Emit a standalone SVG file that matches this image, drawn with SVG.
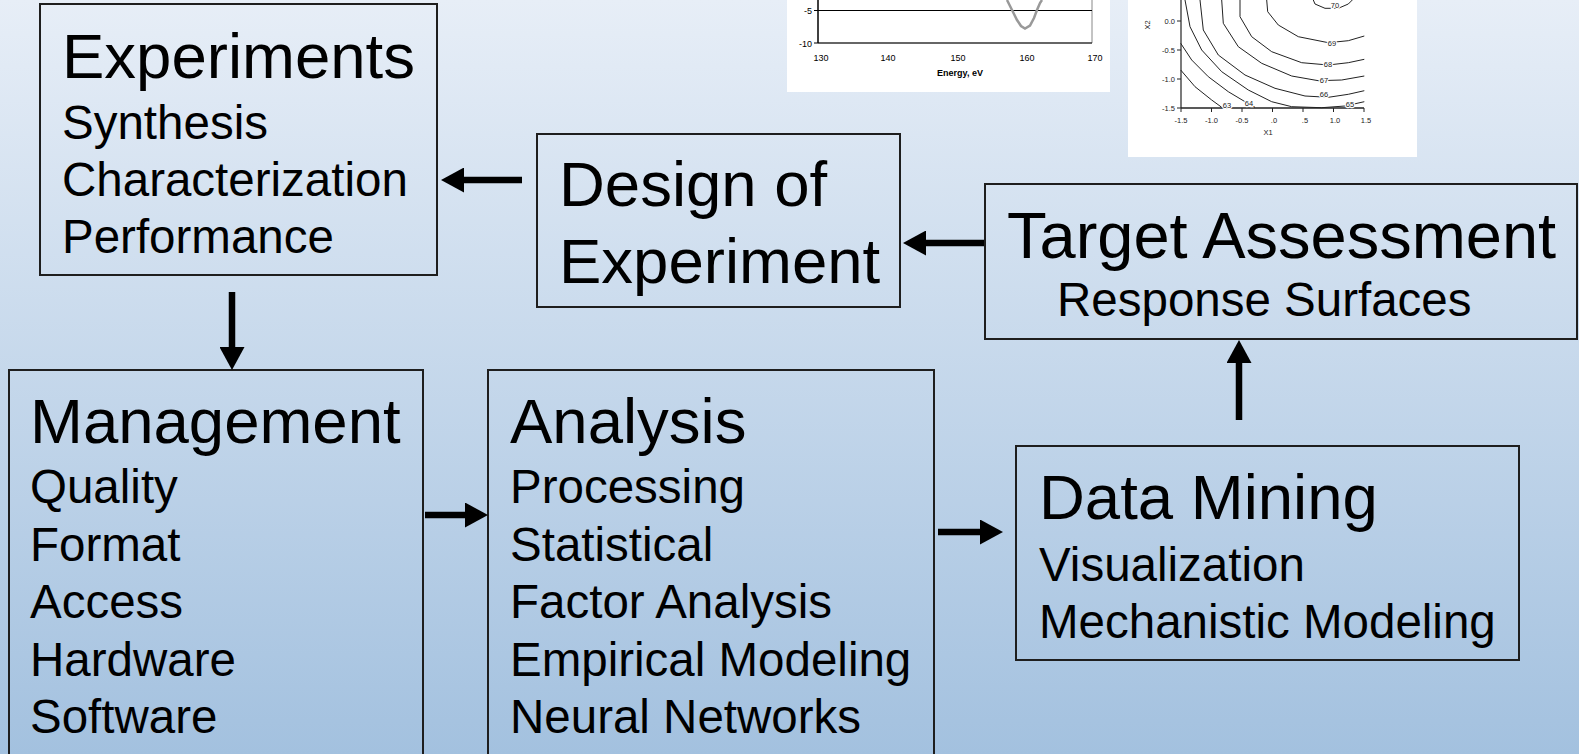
<svg xmlns="http://www.w3.org/2000/svg" width="1579" height="754" viewBox="0 0 1579 754">
<defs>
<linearGradient id="bg" x1="0" y1="0" x2="0" y2="1">
<stop offset="0" stop-color="#e7eef7"/>
<stop offset="1" stop-color="#a3c1df"/>
</linearGradient>
<marker id="ah" markerUnits="userSpaceOnUse" markerWidth="23" markerHeight="25" refX="0" refY="12.5" orient="auto" viewBox="0 0 23 25">
<path d="M0,0 L23,12.5 L0,25 z" fill="#000"/>
</marker>
<style>
.box{fill:none;stroke:#1e1e1e;stroke-width:2}
.t{font-family:"Liberation Sans",Arial,sans-serif;fill:#000}
.h{font-size:63.5px}
.s{font-size:47.5px}
.arr{stroke:#000;stroke-width:6.5;fill:none;marker-end:url(#ah)}
.ax{font-family:"Liberation Sans",Arial,sans-serif;font-size:9px;fill:#000}
.cx{font-family:"Liberation Sans",Arial,sans-serif;font-size:7.5px;fill:#222}
.cl{font-family:"Liberation Sans",Arial,sans-serif;font-size:7.5px;fill:#222;stroke:#fff;stroke-width:2.5;paint-order:stroke}
.ct{fill:none;stroke:#222;stroke-width:1}
</style>
</defs>
<rect x="0" y="0" width="1579" height="754" fill="url(#bg)"/>

<g id="spectrum-plot">
<rect x="787" y="0" width="323" height="92" fill="#fff"/>
<line x1="1092" y1="0" x2="1092" y2="43" stroke="#888" stroke-width="1"/>
<line x1="818" y1="10.5" x2="1092" y2="10.5" stroke="#000" stroke-width="1"/>
<line x1="818" y1="43" x2="1092" y2="43" stroke="#333" stroke-width="1.5"/>
<line x1="818" y1="0" x2="818" y2="43" stroke="#000" stroke-width="1.5"/>
<line x1="814" y1="10.5" x2="818" y2="10.5" stroke="#000"/>
<line x1="814" y1="43" x2="818" y2="43" stroke="#000"/>
<path d="M1007,0 L1010,6 L1013,12 L1017,20 L1021,26 L1025,28.5 L1030,25.5 L1034,18 L1037,10 L1040,3 L1042,0" fill="none" stroke="#999" stroke-width="2.5"/>
<text class="ax" x="812" y="14" text-anchor="end">-5</text>
<text class="ax" x="812" y="46.5" text-anchor="end">-10</text>
<text class="ax" x="821" y="61" text-anchor="middle">130</text>
<text class="ax" x="888" y="61" text-anchor="middle">140</text>
<text class="ax" x="958" y="61" text-anchor="middle">150</text>
<text class="ax" x="1027" y="61" text-anchor="middle">160</text>
<text class="ax" x="1095" y="61" text-anchor="middle">170</text>
<text class="ax" x="960" y="76" text-anchor="middle" font-weight="bold">Energy, eV</text>
</g>

<g id="contour-plot">
<rect x="1128" y="0" width="289" height="157" fill="#fff"/>
<path class="ct" d="M1180.7,70 L1195,86.7 L1211.7,100 L1221.7,107.3"/>
<path class="ct" d="M1180.7,43.3 L1191.7,60 L1208.3,76.7 L1228.3,91.7 L1245,101.7 L1255,107.3"/>
<path class="ct" d="M1185,0 L1190,26.7 L1201.7,50 L1221.7,71.7 L1248.3,90 L1271.7,101.7 L1291.7,106.7 L1321.7,107.7 L1345,106 L1364.3,101.7"/>
<path class="ct" d="M1200,0 L1203.3,30 L1218.3,55 L1245,75 L1275,88.3 L1305,96 L1328.3,97.3 L1348.3,94.3 L1364.3,90.7"/>
<path class="ct" d="M1221.7,0 L1223.3,23.3 L1238.3,46.7 L1261.7,63.3 L1291.7,76 L1318.3,80.7 L1341.7,80 L1364.3,76"/>
<path class="ct" d="M1240,0 L1240,16.7 L1251.7,36.7 L1271.7,51.7 L1301.7,62.7 L1328.3,65 L1348.3,62.7 L1364.3,59.3"/>
<path class="ct" d="M1266.7,0 L1267.7,11.7 L1278.3,25 L1298.3,36.7 L1328.3,42.7 L1348.3,40.7 L1364.3,36"/>
<path class="ct" d="M1313.3,0 L1315,4 L1325,8.3 L1338.3,8.3 L1348.3,4 L1352.3,0"/>
<line x1="1181" y1="0" x2="1181" y2="108" stroke="#222" stroke-width="1.2"/>
<line x1="1181" y1="108" x2="1364" y2="108" stroke="#222" stroke-width="1.6"/>
<g stroke="#222" stroke-width="1">
<line x1="1177" y1="21" x2="1181" y2="21"/>
<line x1="1177" y1="50" x2="1181" y2="50"/>
<line x1="1177" y1="79" x2="1181" y2="79"/>
<line x1="1177" y1="108" x2="1181" y2="108"/>
<line x1="1181" y1="108" x2="1181" y2="112"/>
<line x1="1211.5" y1="108" x2="1211.5" y2="112"/>
<line x1="1242" y1="108" x2="1242" y2="112"/>
<line x1="1272.5" y1="108" x2="1272.5" y2="112"/>
<line x1="1303" y1="108" x2="1303" y2="112"/>
<line x1="1333.5" y1="108" x2="1333.5" y2="112"/>
<line x1="1364" y1="108" x2="1364" y2="112"/>
</g>
<text class="cl" x="1227" y="108" text-anchor="middle">63</text>
<text class="cl" x="1249" y="106" text-anchor="middle">64</text>
<text class="cl" x="1350" y="107" text-anchor="middle">65</text>
<text class="cl" x="1324" y="97" text-anchor="middle">66</text>
<text class="cl" x="1324" y="83" text-anchor="middle">67</text>
<text class="cl" x="1328" y="67" text-anchor="middle">68</text>
<text class="cl" x="1332" y="45.5" text-anchor="middle">69</text>
<text class="cl" x="1335" y="8" text-anchor="middle">70</text>
<text class="cx" x="1175" y="23.5" text-anchor="end">0.0</text>
<text class="cx" x="1175" y="52.5" text-anchor="end">-0.5</text>
<text class="cx" x="1175" y="81.5" text-anchor="end">-1.0</text>
<text class="cx" x="1175" y="110.5" text-anchor="end">-1.5</text>
<text class="cx" x="1181" y="123" text-anchor="middle">-1.5</text>
<text class="cx" x="1211.5" y="123" text-anchor="middle">-1.0</text>
<text class="cx" x="1242" y="123" text-anchor="middle">-0.5</text>
<text class="cx" x="1274" y="123" text-anchor="middle">.0</text>
<text class="cx" x="1305" y="123" text-anchor="middle">.5</text>
<text class="cx" x="1335" y="123" text-anchor="middle">1.0</text>
<text class="cx" x="1366" y="123" text-anchor="middle">1.5</text>
<text class="cx" x="1268" y="135" text-anchor="middle">X1</text>
<text class="cx" x="1150" y="25" text-anchor="middle" transform="rotate(-90 1150 25)">X2</text>
</g>

<g id="experiments">
<rect class="box" x="40" y="4" width="397" height="271"/>
<text class="t h" x="62" y="78">Experiments</text>
<text class="t s" x="62" y="139">Synthesis</text>
<text class="t s" x="62" y="196">Characterization</text>
<text class="t s" x="62" y="253">Performance</text>
</g>

<g id="design-of-experiment">
<rect class="box" x="537" y="134" width="363" height="173"/>
<text class="t h" x="559" y="206">Design of</text>
<text class="t h" x="559" y="283">Experiment</text>
</g>

<g id="target-assessment">
<rect class="box" x="985" y="184" width="592" height="155"/>
<text class="t" x="1007" y="258" font-size="65">Target Assessment</text>
<text class="t s" x="1057" y="316">Response Surfaces</text>
</g>

<g id="management">
<rect class="box" x="9" y="370" width="414" height="400"/>
<text class="t h" x="30" y="443">Management</text>
<text class="t s" x="30" y="503">Quality</text>
<text class="t s" x="30" y="560.5">Format</text>
<text class="t s" x="30" y="618">Access</text>
<text class="t s" x="30" y="675.5">Hardware</text>
<text class="t s" x="30" y="733">Software</text>
</g>

<g id="analysis">
<rect class="box" x="488" y="370" width="446" height="400"/>
<text class="t h" x="510" y="443">Analysis</text>
<text class="t s" x="510" y="503">Processing</text>
<text class="t s" x="510" y="560.5">Statistical</text>
<text class="t s" x="510" y="618">Factor Analysis</text>
<text class="t s" x="510" y="675.5">Empirical Modeling</text>
<text class="t s" x="510" y="733">Neural Networks</text>
</g>

<g id="data-mining">
<rect class="box" x="1016" y="446" width="503" height="214"/>
<text class="t h" x="1039" y="519">Data Mining</text>
<text class="t s" x="1039" y="581">Visualization</text>
<text class="t s" x="1039" y="638">Mechanistic Modeling</text>
</g>

<g id="connectors">
<line class="arr" x1="522" y1="180" x2="464" y2="180"/>
<line class="arr" x1="984" y1="243" x2="926" y2="243"/>
<line class="arr" x1="232" y1="292" x2="232" y2="347"/>
<line class="arr" x1="425" y1="515" x2="465" y2="515"/>
<line class="arr" x1="938" y1="532" x2="980" y2="532"/>
<line class="arr" x1="1239" y1="420" x2="1239" y2="363"/>
</g>
</svg>
